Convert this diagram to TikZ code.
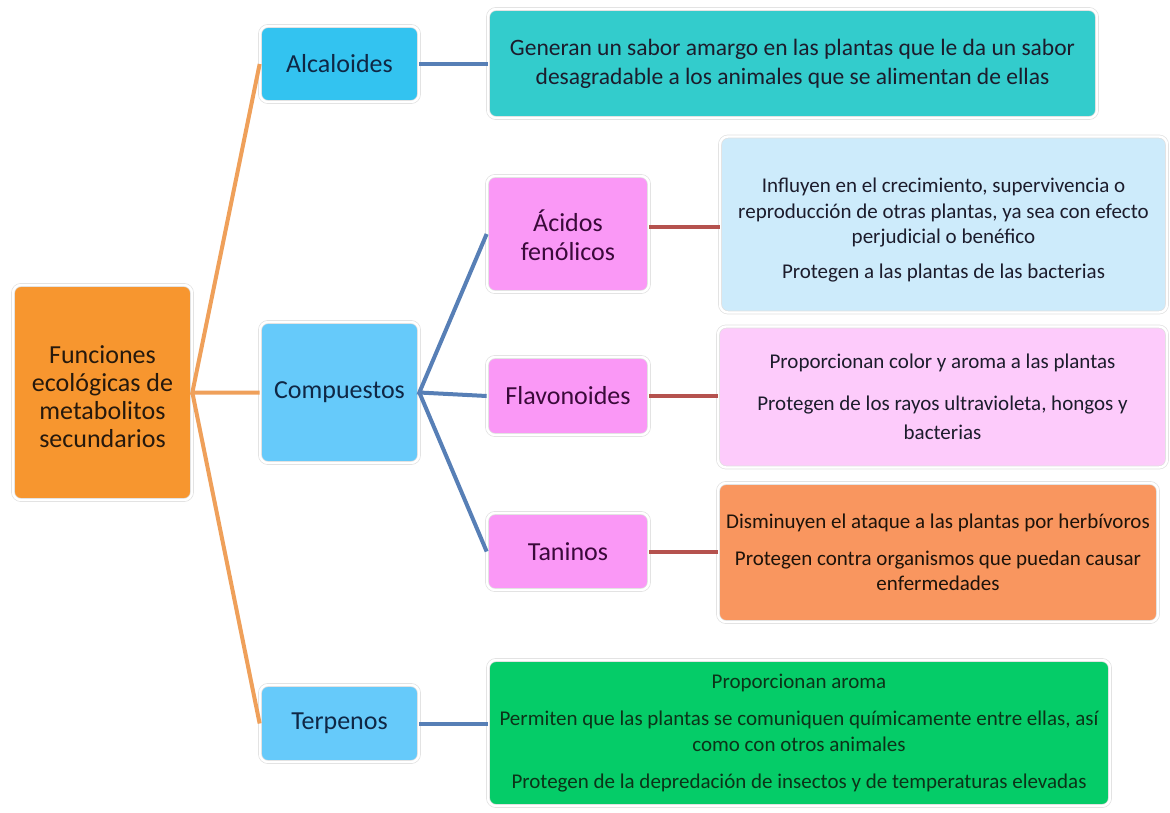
\documentclass[tikz,border=0pt]{standalone}
\usepackage{fontspec}
\setmainfont{Carlito}
\usepackage{tikz}

\definecolor{rootfill}{HTML}{F7962F}
\definecolor{alcfill}{HTML}{33C3F0}
\definecolor{grpfill}{HTML}{66CAFA}
\definecolor{pinkfill}{HTML}{FA98F6}
\definecolor{tealfill}{HTML}{33CCCC}
\definecolor{skyfill}{HTML}{CDEBFB}
\definecolor{lilacfill}{HTML}{FDCBFB}
\definecolor{peachfill}{HTML}{F9965F}
\definecolor{greenfill}{HTML}{05CC68}
\definecolor{orangeline}{HTML}{EFA05A}
\definecolor{blueline}{HTML}{577FB6}
\definecolor{redline}{HTML}{B5524E}
\definecolor{navytext}{HTML}{0F2745}
\definecolor{plumtext}{HTML}{3A0A3A}
\definecolor{darktext}{HTML}{1C1C2C}
\definecolor{greentext}{HTML}{0C3318}

\begin{document}
\begin{tikzpicture}[x=1pt,y=-1pt,
  box/.style={rounded corners=8pt, draw=black!12, line width=0.7pt,
    double=white, double distance=2.4pt, align=center, inner sep=3pt},
  topic/.style={box, font=\fontsize{26}{29}\selectfont, text=navytext},
  desc/.style={box, font=\fontsize{21}{25.5}\selectfont, text=darktext},
  orangelink/.style={draw=orangeline, line width=4pt},
  bluelink/.style={draw=blueline, line width=4pt},
  redlink/.style={draw=redline, line width=4pt}]
\useasboundingbox (0,0) rectangle (1170,812);

% \draw[color=gray,step=50,thin] (0,0) grid (1170,812);

% first column
\node[topic, fill=rootfill, text=black!80!brown, font=\fontsize{26}{28}\selectfont,
  minimum width=179pt, minimum height=215pt]
  (root) at (102.5,392.5) {\rule{0pt}{27pt}Funciones\\ecológicas de\\metabolitos\\secundarios};

% second column
\node[topic, fill=alcfill, minimum width=159pt, minimum height=76pt] (alc) at (339.5,64) {Alcaloides};
\node[topic, fill=grpfill, minimum width=159pt, minimum height=141pt] (comp) at (339.5,392.5) {Compuestos};
\node[topic, fill=grpfill, minimum width=159pt, minimum height=77pt] (terp) at (339.5,723.5) {Terpenos};

% third column
\node[topic, fill=pinkfill, text=plumtext, minimum width=162pt, minimum height=116pt]
  (acid) at (568,234) {\rule{0pt}{25pt}Ácidos\\fenólicos};
\node[topic, fill=pinkfill, text=plumtext, minimum width=162pt, minimum height=78pt] (flav) at (568,396) {Flavonoides};
\node[topic, fill=pinkfill, text=plumtext, minimum width=162pt, minimum height=77pt] (tan) at (568,551.5) {Taninos};

% descriptions
\node[desc, fill=tealfill, font=\fontsize{23.5}{29}\selectfont, minimum width=609pt, minimum height=109pt]
  (dalc) at (792.5,63.5)
  {Generan un sabor amargo en las plantas que le da un sabor\\desagradable a los animales que se alimentan de ellas};
\node[desc, fill=skyfill, minimum width=447pt, minimum height=176pt] (dacid) at (943.5,224.5)
  {\rule{0pt}{26pt}Influyen en el crecimiento, supervivencia o\\reproducción de otras plantas, ya sea con efecto\\perjudicial o benéfico\\[9pt]
   Protegen a las plantas de las bacterias};
\node[desc, fill=lilacfill, minimum width=449pt, minimum height=141pt] (dflav) at (942.5,397)
  {Proporcionan color y aroma a las plantas\\[16pt]Protegen de los rayos ultravioleta, hongos y\\[4pt]bacterias};
\node[desc, fill=peachfill, text=black!85!brown, minimum width=440pt, minimum height=139pt] (dtan) at (938,552.5)
  {Disminuyen el ataque a las plantas por herbívoros\\[11pt]Protegen contra organismos que puedan causar\\enfermedades};
\node[desc, fill=greenfill, text=greentext, font=\fontsize{21}{25.5}\selectfont,
  minimum width=622pt, minimum height=146pt] (dterp) at (799,733)
  {Proporcionan aroma\\[12pt]Permiten que las plantas se comuniquen químicamente entre ellas, así\\como con otros animales\\[12pt]
   Protegen de la depredación de insectos y de temperaturas elevadas};

% links
\draw[orangelink] (alc.west) -- (root.east) -- (comp.west);
\draw[orangelink] (root.east) -- (terp.west);

\draw[bluelink] (acid.west) -- (comp.east) -- (flav.west);
\draw[bluelink] (comp.east) -- (tan.west);
\draw[bluelink] (alc.east) -- (alc.east -| dalc.west);
\draw[bluelink] (terp.east) -- (terp.east -| dterp.west);

\draw[redlink] ([yshift=7pt]acid.east) -- ([yshift=7pt]acid.east -| dacid.west);
\draw[redlink] (flav.east) -- (flav.east -| dflav.west);
\draw[redlink] (tan.east) -- (tan.east -| dtan.west);

\end{tikzpicture}
\end{document}
